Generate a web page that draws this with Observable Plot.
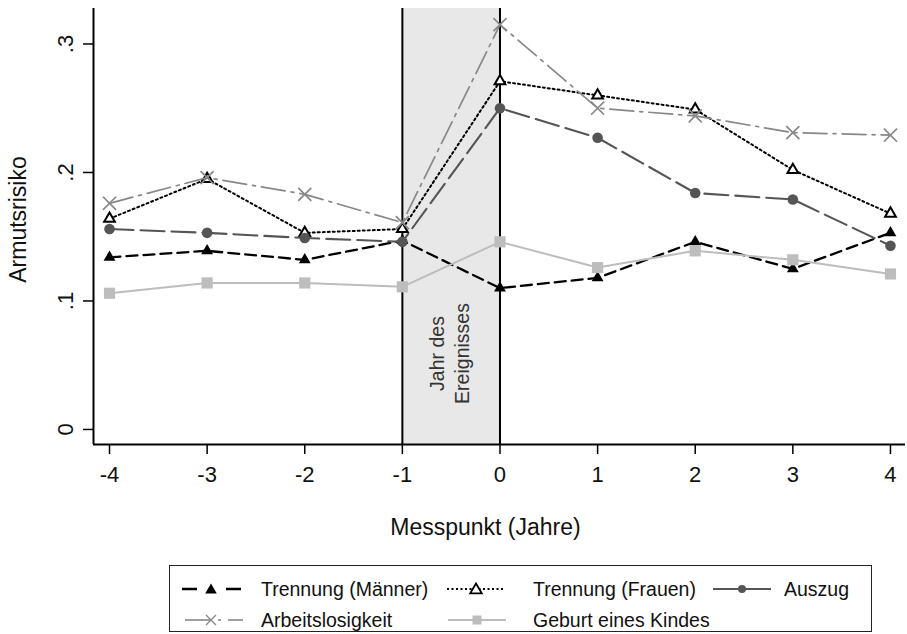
<!DOCTYPE html>
<html>
<head>
<meta charset="utf-8">
<script src="https://cdn.jsdelivr.net/npm/d3@7"></script>
<script src="https://cdn.jsdelivr.net/npm/@observablehq/plot@0.6"></script>
<style>
  html, body { margin: 0; padding: 0; background: #fff; }
  #wrap { position: relative; width: 907px; height: 634px; font-family: "Liberation Sans", Arial, sans-serif; }
  #legend { position: absolute; left: 169px; top: 565px; width: 703px; height: 67px; box-sizing: border-box; border: 1.5px solid #222; background: #fff; }
  .item { position: absolute; height: 24px; display: flex; align-items: center; }
  .item svg { display: block; }
  .item span { position: absolute; white-space: nowrap; font-size: 19.5px; color: #111; line-height: 24px; }
</style>
</head>
<body>
<div id="wrap">
  <div id="chart"></div>
  <div id="legend"></div>
</div>
<script>
// ---- data ----
const xValues = [-4, -3, -2, -1, 0, 1, 2, 3, 4];
const seriesNames = ["Trennung (Männer)", "Trennung (Frauen)", "Auszug", "Arbeitslosigkeit", "Geburt eines Kindes"];
const maenner    = [0.134, 0.139, 0.132, 0.147, 0.110, 0.118, 0.146, 0.125, 0.153];
const frauen     = [0.164, 0.195, 0.153, 0.156, 0.271, 0.260, 0.249, 0.202, 0.168];
const auszug     = [0.156, 0.153, 0.149, 0.146, 0.250, 0.227, 0.184, 0.179, 0.143];
const arbeitslos = [0.176, 0.196, 0.183, 0.161, 0.315, 0.250, 0.244, 0.231, 0.229];
const geburt     = [0.106, 0.114, 0.114, 0.111, 0.146, 0.126, 0.139, 0.132, 0.121];
const xTicks = [-4, -3, -2, -1, 0, 1, 2, 3, 4];
const yTicks = [0, 0.1, 0.2, 0.3];
const eventBand = [{start: -1, end: 0}];
const eventLabel = "Jahr des\nEreignisses";
const xLabel = "Messpunkt (Jahre)";
const yLabel = "Armutsrisiko";

// ---- styles ----
const styles = [
  {stroke: "#000", dash: "11,6", width: 2.3, symbol: "triangle", r: 4.4, fill: "#000", mstroke: "none", mwidth: 0},
  {stroke: "#000", dash: "2,3", width: 2, symbol: "triangle", r: 4, fill: "#fff", mstroke: "#000", mwidth: 2},
  {stroke: "#555", dash: "24,7", width: 2.1, symbol: "circle", r: 5.3, fill: "#555", mstroke: "none", mwidth: 0},
  {stroke: "#888", dash: "24,6,3,6", width: 1.7, symbol: "times", r: 6, fill: "none", mstroke: "#888", mwidth: 1.7},
  {stroke: "#bdbdbd", dash: null, width: 2, symbol: "square", r: 6.3, fill: "#bdbdbd", mstroke: "none", mwidth: 0}
];
const allSeries = [maenner, frauen, auszug, arbeitslos, geburt];

const xDomain = [-4.164, 4.154];
const yDomain = [-0.0117, 0.3276];
const yFmt = d => d === 0 ? "0" : String(d).replace(/^0/, "");

const seriesMarks = allSeries.flatMap((vals, i) => {
  const s = styles[i];
  const rows = xValues.map((x, j) => ({x, v: vals[j]}));
  return [
    Plot.line(rows, {x: "x", y: "v", stroke: s.stroke, strokeWidth: s.width, strokeDasharray: s.dash || undefined}),
    Plot.dot(rows, {x: "x", y: "v", symbol: s.symbol, r: s.r, fill: s.fill, stroke: s.mstroke, strokeWidth: s.mwidth})
  ];
});

const chart = Plot.plot({
  width: 907,
  height: 560,
  marginLeft: 93,
  marginRight: 2,
  marginTop: 8,
  marginBottom: 116,
  style: {fontFamily: "'Liberation Sans', Arial, sans-serif", background: "#fff", color: "#111"},
  x: {domain: xDomain, label: null},
  y: {domain: yDomain, label: null},
  marks: [
    Plot.rect(eventBand, {x1: "start", x2: "end", fill: "#e8e8e8"}),
    Plot.ruleX(eventBand.flatMap(d => [d.start, d.end]), {stroke: "#000", strokeWidth: 2}),
    Plot.text([eventLabel], {x: eventBand[0].start / 2 + eventBand[0].end / 2, frameAnchor: "middle", dx: -3, dy: 127, rotate: -90, text: d => d, textAnchor: "middle", lineAnchor: "middle", lineHeight: 1.3, fontSize: 19.5, fill: "#333"}),
    Plot.ruleX([xDomain[0]], {stroke: "#000", strokeWidth: 2}),
    Plot.ruleY([yDomain[0]], {stroke: "#000", strokeWidth: 2}),
    Plot.axisX(xTicks, {tickSize: 10, tickPadding: 12, fontSize: 22, tickFormat: d => String(d), stroke: "#000", strokeWidth: 1.5, label: null}),
    Plot.axisY(yTicks, {tickSize: 10, tickFormat: () => "", stroke: "#000", strokeWidth: 1.5, label: null}),
    Plot.text(yTicks, {y: d => d, frameAnchor: "left", dx: -21, rotate: -90, text: yFmt, textAnchor: "middle", lineAnchor: "bottom", fontSize: 22, fill: "#111"}),
    Plot.text([yLabel], {frameAnchor: "left", dx: -75, dy: -7, rotate: -90, text: d => d, textAnchor: "middle", lineAnchor: "middle", fontSize: 23, fill: "#111"}),
    Plot.text([xLabel], {frameAnchor: "bottom", dy: 83, dx: -14, text: d => d, textAnchor: "middle", lineAnchor: "middle", fontSize: 23, fill: "#111"}),
    ...seriesMarks
  ]
});
document.getElementById("chart").appendChild(chart);

// ---- legend ----
const legendItems = [
  {i: 0, left: 12, top: 11, textLeft: 91},
  {i: 1, left: 277, top: 11, textLeft: 363},
  {i: 2, left: 543, top: 11, textLeft: 614},
  {i: 3, left: 15, top: 42, textLeft: 91},
  {i: 4, left: 278, top: 42, textLeft: 363}
];
function symbolSvg(i) {
  const s = styles[i];
  const w = 60, h = 20, cy = 10;
  let lines = "";
  if (i === 0) {
    lines = `<line x1="0" y1="${cy}" x2="15" y2="${cy}" stroke="#000" stroke-width="2.5"/><line x1="44" y1="${cy}" x2="59" y2="${cy}" stroke="#000" stroke-width="2.5"/>`;
  } else if (i === 1) {
    lines = `<line x1="0" y1="${cy}" x2="58" y2="${cy}" stroke="#000" stroke-width="2" stroke-dasharray="2,2.5"/>`;
  } else if (i === 3) {
    lines = `<line x1="0" y1="${cy}" x2="26" y2="${cy}" stroke="${s.stroke}" stroke-width="1.6"/><line x1="33" y1="${cy}" x2="36" y2="${cy}" stroke="${s.stroke}" stroke-width="1.6"/><line x1="43" y1="${cy}" x2="58" y2="${cy}" stroke="${s.stroke}" stroke-width="1.6"/>`;
  } else {
    lines = `<line x1="0" y1="${cy}" x2="58" y2="${cy}" stroke="${s.stroke}" stroke-width="2"/>`;
  }
  let marker = "";
  const mx = i === 3 ? 26 : 29;
  if (s.symbol === "triangle") {
    const a = 5.5;
    marker = `<path d="M${mx},${cy - a} L${mx + a * 1.05},${cy + a * 0.8} L${mx - a * 1.05},${cy + a * 0.8} Z" fill="${s.fill}" stroke="${i === 0 ? "none" : "#000"}" stroke-width="1.8"/>`;
  } else if (s.symbol === "circle") {
    marker = `<circle cx="${mx}" cy="${cy}" r="4" fill="${s.fill}"/>`;
  } else if (s.symbol === "times") {
    marker = `<path d="M${mx - 5},${cy - 5} L${mx + 5},${cy + 5} M${mx - 5},${cy + 5} L${mx + 5},${cy - 5}" stroke="${s.stroke}" stroke-width="1.4"/>`;
  } else if (s.symbol === "square") {
    marker = `<rect x="${mx - 4.5}" y="${cy - 4.5}" width="9" height="9" fill="${s.fill}"/>`;
  }
  return `<svg width="${w}" height="${h}">${lines}${marker}</svg>`;
}
const legend = document.getElementById("legend");
legendItems.forEach(it => {
  const d = document.createElement("div");
  d.className = "item";
  d.style.left = it.left + "px";
  d.style.top = it.top + "px";
  d.innerHTML = symbolSvg(it.i) + `<span style="left:${it.textLeft - it.left}px">${seriesNames[it.i]}</span>`;
  legend.appendChild(d);
});
</script>
</body>
</html>
